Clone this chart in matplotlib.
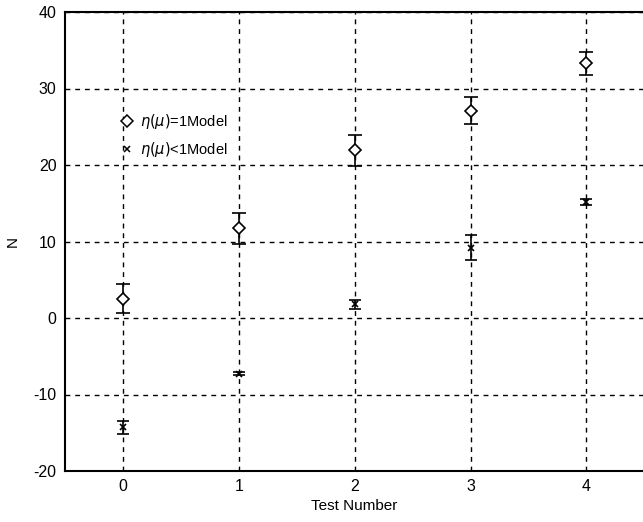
import numpy as np
import matplotlib
matplotlib.use("Agg")
from matplotlib import pyplot as plt
from matplotlib.lines import Line2D

plt.rcParams['font.family'] = ['Liberation Sans', 'DejaVu Sans']
plt.rcParams['axes.unicode_minus'] = False

tests = [0, 1, 2, 3, 4]
eq_model = [2.5, 11.7, 21.9, 27.1, 33.3]
eq_err = [1.9, 2.0, 2.0, 1.8, 1.5]
lt_model = [-14.3, -7.3, 1.8, 9.2, 15.2]
lt_err = [0.8, 0.2, 0.6, 1.6, 0.4]
yticks = [-20, -10, 0, 10, 20, 30, 40]

fig = plt.figure(figsize=(6.43, 5.22), dpi=100)
ax = fig.add_axes([65/643, 1 - 471/522, 1.0 - 65/643 + 0.002, (471 - 12)/522])

ax.errorbar(tests, eq_model, yerr=eq_err, fmt='D', ms=6.5, mfc='white', mec='black',
            mew=1.2, ecolor='black', elinewidth=1.2, capsize=5, capthick=1.2, zorder=3)
ax.errorbar(tests, lt_model, yerr=lt_err, fmt='x', ms=5, mec='black',
            mew=1.2, ecolor='black', elinewidth=1.2, capsize=4, capthick=1.2, zorder=3)

ax.set_xlim(-0.5, 4.5)
ax.set_ylim(-20, 40)
ax.set_xticks(tests)
ax.set_yticks(yticks)
ax.grid(True, color='black', linestyle=(0, (3.5, 3.5)), linewidth=1.0)
ax.tick_params(length=0, labelsize=11.5, pad=6)
for s in ['left', 'bottom', 'top']:
    ax.spines[s].set_linewidth(1.5)
ax.spines['right'].set_visible(False)

ax.set_xlabel('Test Number', fontsize=11, labelpad=3)
ax.set_ylabel('N', fontsize=11, labelpad=10)

handles = [Line2D([], [], marker='D', ms=6, mfc='white', mec='black', mew=1.1, ls='none'),
           Line2D([], [], marker='x', ms=4, mec='black', mew=1.1, ls='none')]
labels = [r'$\eta(\mu)$=1Model', r'$\eta(\mu)$<1Model']
ax.legend(handles, labels, loc='upper left', bbox_to_anchor=(0.09, 0.795), frameon=False,
          handlelength=0.6, handletextpad=0.6, labelspacing=0.6, fontsize=10.5,
          borderaxespad=0)

fig.savefig('out.png', dpi=100)
